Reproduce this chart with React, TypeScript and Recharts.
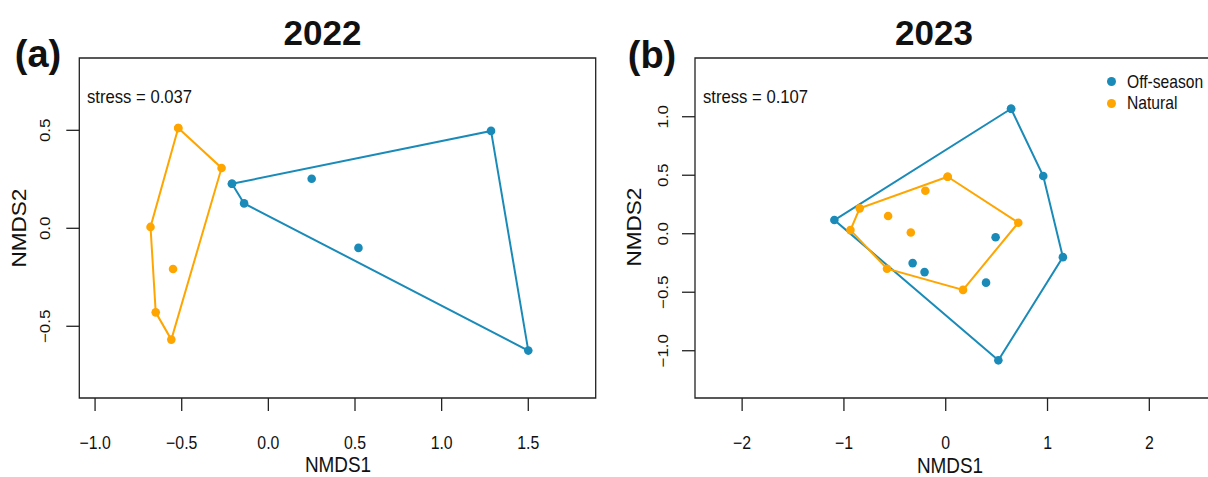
import React from 'react';
import { ScatterChart, Scatter, XAxis, YAxis, ReferenceArea, Legend } from 'recharts';

const FONT = '"Liberation Sans", Arial, Helvetica, sans-serif';
const BLUE = '#1a8bb8';
const ORANGE = '#ffa500';
const SQUEEZE = 0.88;

const groupNames = ['Off-season', 'Natural'];
const groupColors = [BLUE, ORANGE];

// ---- 2022 (a) ----
const off2022X = [-0.21, -0.14, 0.25, 0.52, 1.285, 1.5];
const off2022Y = [0.227, 0.127, 0.253, -0.1, 0.497, -0.624];
const off2022Hull = [0, 4, 5, 1];

const nat2022X = [-0.52, -0.27, -0.68, -0.55, -0.65, -0.56];
const nat2022Y = [0.512, 0.308, 0.007, -0.208, -0.429, -0.568];
const nat2022Hull = [0, 1, 5, 4, 2];

// ---- 2023 (b) ----
const off2023X = [0.642, 0.958, 1.151, 0.517, -1.094, 0.49, -0.325, -0.208, 0.396];
const off2023Y = [1.068, 0.493, -0.2, -1.082, 0.117, -0.03, -0.251, -0.328, -0.418];
const off2023Hull = [0, 1, 2, 3, 4];

const nat2023X = [0.019, 0.713, 0.17, -0.577, -0.936, -0.845, -0.2, -0.566, -0.343];
const nat2023Y = [0.487, 0.094, -0.48, -0.299, 0.031, 0.217, 0.368, 0.151, 0.011];
const nat2023Hull = [0, 1, 2, 3, 4, 5];

// ---- ticks / labels ----
const xTicks2022 = [-1, -0.5, 0, 0.5, 1, 1.5];
const yTicks2022 = [-0.5, 0, 0.5];
const xTicks2023 = [-2, -1, 0, 1, 2];
const yTicks2023 = [-1, -0.5, 0, 0.5, 1];
const titles = ['2022', '2023'];
const panelTags = ['(a)', '(b)'];
const stressLabels = ['stress = 0.037', 'stress = 0.107'];
const axisTitles = ['NMDS1', 'NMDS2'];

const fmt1 = (v: number) => (v < 0 ? '\u2212' : '') + Math.abs(v).toFixed(1);
const fmt0 = (v: number) => (v < 0 ? '\u2212' : '') + Math.abs(v).toFixed(0);

const pts = (xs: number[], ys: number[], idx: number[]) => idx.map((i) => ({ x: xs[i], y: ys[i] }));
const hullPts = (xs: number[], ys: number[], hull: number[]) => pts(xs, ys, [...hull, hull[0]]);
const innerPts = (xs: number[], ys: number[], hull: number[]) =>
  pts(xs, ys, xs.map((_, i) => i).filter((i) => !hull.includes(i)));

const dot = (color: string) => (p: any) => <circle cx={p.cx} cy={p.cy} r={4.3} fill={color} />;

type PanelProps = {
  left: number;
  width: number;
  yAxisWidth: number;
  marginRight: number;
  xDomain: [number, number];
  yDomain: [number, number];
  xTicks: number[];
  yTicks: number[];
  xFmt: (v: number) => string;
  yFmt: (v: number) => string;
  yTickOffset: number;
  off: { xs: number[]; ys: number[]; hull: number[] };
  nat: { xs: number[]; ys: number[]; hull: number[] };
  showLegend?: boolean;
};

const LegendBox = () => (
  <div style={{ fontFamily: FONT, fontSize: 17.8, color: '#111' }}>
    {groupNames.map((n, i) => (
      <div key={n} style={{ display: 'flex', alignItems: 'center', height: 21.6 }}>
        <span
          style={{
            display: 'inline-block',
            width: 9,
            height: 9,
            borderRadius: '50%',
            background: groupColors[i],
            marginRight: 10.5,
            flex: 'none',
          }}
        />
        <span
          style={{
            display: 'inline-block',
            lineHeight: '18px',
            whiteSpace: 'nowrap',
            transform: `scaleX(${SQUEEZE})`,
            transformOrigin: '0 50%',
          }}
        >
          {n}
        </span>
      </div>
    ))}
  </div>
);

function Panel(p: PanelProps) {
  const XTick = (t: any) => (
    <text
      transform={`translate(${t.x}, ${t.y + 29.7}) scale(${SQUEEZE}, 1)`}
      x={0}
      y={0}
      textAnchor="middle"
      dominantBaseline="central"
      fontFamily={FONT}
      fontSize={18}
      fill="#111"
    >
      {p.xFmt(t.payload.value)}
    </text>
  );
  const YTick = (t: any) => {
    const tx = t.x + p.yTickOffset;
    return (
      <text
        transform={`translate(${tx}, ${t.y}) scale(${SQUEEZE}, 1) rotate(-90)`}
        x={0}
        y={0}
        textAnchor="middle"
        dominantBaseline="central"
        fontFamily={FONT}
        fontSize={17}
        fill="#111"
      >
        {p.yFmt(t.payload.value)}
      </text>
    );
  };
  return (
    <div style={{ position: 'absolute', left: p.left, top: 0 }}>
      <ScatterChart
        width={p.width}
        height={477}
        margin={{ top: 58, right: p.marginRight, bottom: 0, left: 0 }}
      >
        <XAxis
          type="number"
          dataKey="x"
          domain={p.xDomain}
          ticks={p.xTicks}
          interval={0}
          allowDataOverflow
          height={79}
          tickSize={13}
          tickMargin={2}
          axisLine={false}
          tickLine={{ stroke: '#222', strokeWidth: 1.3 }}
          tick={XTick}
        />
        <YAxis
          type="number"
          dataKey="y"
          domain={p.yDomain}
          ticks={p.yTicks}
          interval={0}
          allowDataOverflow
          width={p.yAxisWidth}
          tickSize={13}
          tickMargin={2}
          axisLine={false}
          tickLine={{ stroke: '#222', strokeWidth: 1.3 }}
          tick={YTick}
        />
        <ReferenceArea
          x1={p.xDomain[0]}
          x2={p.xDomain[1]}
          y1={p.yDomain[0]}
          y2={p.yDomain[1]}
          fill="none"
          fillOpacity={0}
          stroke="#222"
          strokeWidth={1.3}
          ifOverflow="visible"
        />
        <Scatter
          name="Off-season"
          data={hullPts(p.off.xs, p.off.ys, p.off.hull)}
          line={{ stroke: BLUE, strokeWidth: 2 }}
          lineType="joint"
          shape={dot(BLUE)}
          isAnimationActive={false}
        />
        <Scatter
          name="Off-season inner"
          data={innerPts(p.off.xs, p.off.ys, p.off.hull)}
          shape={dot(BLUE)}
          isAnimationActive={false}
        />
        <Scatter
          name="Natural"
          data={hullPts(p.nat.xs, p.nat.ys, p.nat.hull)}
          line={{ stroke: ORANGE, strokeWidth: 2 }}
          lineType="joint"
          shape={dot(ORANGE)}
          isAnimationActive={false}
        />
        <Scatter
          name="Natural inner"
          data={innerPts(p.nat.xs, p.nat.ys, p.nat.hull)}
          shape={dot(ORANGE)}
          isAnimationActive={false}
        />
        {p.showLegend ? (
          <Legend
            layout="vertical"
            align="center"
            verticalAlign="middle"
            content={() => <LegendBox />}
            wrapperStyle={{ position: 'absolute', left: 507, top: 71, width: 110, height: 44 }}
          />
        ) : null}
      </ScatterChart>
    </div>
  );
}

const textBase: React.CSSProperties = {
  position: 'absolute',
  fontFamily: FONT,
  color: '#111',
  whiteSpace: 'nowrap',
  lineHeight: 1,
};

const centered = (
  x: number,
  y: number,
  size: number,
  bold = false,
  rotate = false,
  squeeze = 1
): React.CSSProperties => ({
  ...textBase,
  left: x,
  top: y,
  fontSize: size,
  fontWeight: bold ? 700 : 400,
  transform: `translate(-50%, -50%) scaleX(${squeeze})${rotate ? ' rotate(-90deg)' : ''}`,
});

export default function App() {
  return (
    <div
      style={{
        position: 'absolute',
        left: 0,
        top: 0,
        width: 1208,
        height: 477,
        overflow: 'hidden',
        background: '#fff',
      }}
    >
      <Panel
        left={0}
        width={600}
        yAxisWidth={79.3}
        marginRight={4.3}
        xDomain={[-1.091, 1.889]}
        yDomain={[-0.866, 0.869]}
        xTicks={xTicks2022}
        yTicks={yTicks2022}
        xFmt={fmt1}
        yFmt={fmt1}
        yTickOffset={-19.3}
        off={{ xs: off2022X, ys: off2022Y, hull: off2022Hull }}
        nat={{ xs: nat2022X, ys: nat2022Y, hull: nat2022Hull }}
      />
      <Panel
        left={600}
        width={613}
        yAxisWidth={95}
        marginRight={2.6}
        xDomain={[-2.463, 2.6]}
        yDomain={[-1.404, 1.502]}
        xTicks={xTicks2023}
        yTicks={yTicks2023}
        xFmt={fmt0}
        yFmt={fmt1}
        yTickOffset={-17}
        off={{ xs: off2023X, ys: off2023Y, hull: off2023Hull }}
        nat={{ xs: nat2023X, ys: nat2023Y, hull: nat2023Hull }}
        showLegend
      />

      <div style={centered(322.5, 32, 35, true)}>{titles[0]}</div>
      <div style={centered(934, 32, 35, true)}>{titles[1]}</div>
      <div style={centered(38, 54, 38, true)}>{panelTags[0]}</div>
      <div style={centered(652, 55, 38, true)}>{panelTags[1]}</div>

      <div
        style={{
          ...textBase,
          left: 87.3,
          top: 96.5,
          fontSize: 18.5,
          transform: 'translateY(-50%) scaleX(0.9)',
          transformOrigin: '0 50%',
        }}
      >
        {stressLabels[0]}
      </div>
      <div
        style={{
          ...textBase,
          left: 702.7,
          top: 96.7,
          fontSize: 18.5,
          transform: 'translateY(-50%) scaleX(0.9)',
          transformOrigin: '0 50%',
        }}
      >
        {stressLabels[1]}
      </div>

      <div style={centered(337.5, 466, 21.5, false, false, SQUEEZE)}>{axisTitles[0]}</div>
      <div style={centered(950, 467, 21.5, false, false, SQUEEZE)}>{axisTitles[0]}</div>
      <div style={centered(20, 228, 22.5, false, true, SQUEEZE)}>{axisTitles[1]}</div>
      <div style={centered(635, 227, 22.5, false, true, SQUEEZE)}>{axisTitles[1]}</div>
    </div>
  );
}
